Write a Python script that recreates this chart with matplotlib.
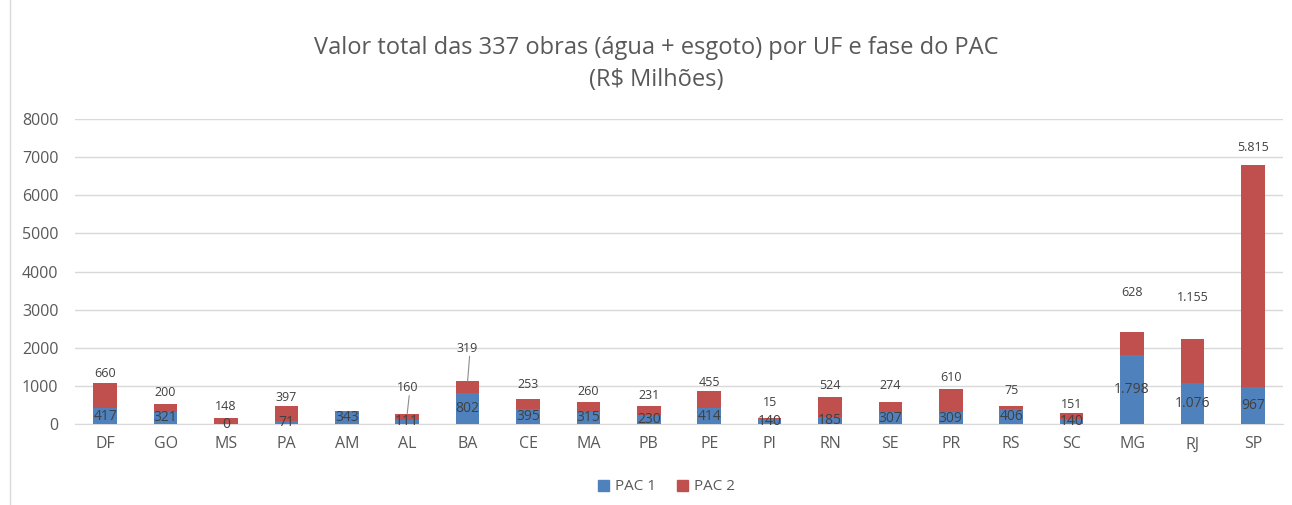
import matplotlib
matplotlib.use("Agg")
import matplotlib.pyplot as plt
import numpy as np
from matplotlib.patches import Patch

ufs = ["DF", "GO", "MS", "PA", "AM", "AL", "BA", "CE", "MA", "PB", "PE", "PI",
       "RN", "SE", "PR", "RS", "SC", "MG", "RJ", "SP"]
pac1 = [417, 321, 0, 71, 343, 111, 802, 395, 315, 230, 414, 140, 185, 307, 309, 406, 140, 1798, 1076, 967]
pac2 = [660, 200, 148, 397, 0, 160, 319, 253, 260, 231, 455, 15, 524, 274, 610, 75, 151, 628, 1155, 5815]
pac1_labels = ["417", "321", "0", "71", "343", "111", "802", "395", "315", "230", "414", "140",
               "185", "307", "309", "406", "140", "1.798", "1.076", "967"]
pac2_labels = ["660", "200", "148", "397", "", "160", "319", "253", "260", "231", "455", "15",
               "524", "274", "610", "75", "151", "628", "1.155", "5.815"]
# label centre distance above bar top (pixels)
pac2_offsets_px = [9, 12, 12, 9, 0, 26, 33, 15, 11, 11, 8, 16, 11, 16, 11, 15, 8, 39, 41, 18]
leader = [False, False, False, False, False, True, True] + [False] * 13

BLUE = "#4F81BD"
RED = "#C0504D"
GRAY = "#595959"
PX = 0.72  # points per pixel at 100 dpi

plt.rcParams["font.family"] = ["Open Sans", "DejaVu Sans"]

fig = plt.figure(figsize=(12.92, 5.05), dpi=100)
ax = fig.add_axes([75 / 1292, 1 - 424 / 505, (1283 - 75) / 1292, (424 - 119) / 505])

x = np.arange(len(ufs))
w = 0.39
ax.bar(x, pac1, w, color=BLUE, zorder=3)
ax.bar(x, pac2, w, bottom=pac1, color=RED, zorder=3)

for i in range(len(ufs)):
    ax.text(x[i], pac1[i] / 2, pac1_labels[i], ha="center", va="center",
            fontsize=10, color="#404040", zorder=4)
    if pac2_labels[i]:
        top = pac1[i] + pac2[i]
        off = pac2_offsets_px[i] * PX
        ax.annotate(pac2_labels[i], xy=(x[i], top), xytext=(0, off),
                    textcoords="offset points", ha="center", va="center",
                    fontsize=9, color="#404040", zorder=4)
        if leader[i]:
            ax.annotate("", xy=(x[i], top), xytext=(2 * PX, off - 8 * PX),
                        textcoords="offset points",
                        arrowprops=dict(arrowstyle="-", color="#8C8C8C", lw=0.8,
                                        shrinkA=0, shrinkB=0), zorder=4)

ax.set_ylim(0, 8000)
ax.set_xlim(-0.5, len(ufs) - 0.5)
ax.set_yticks(range(0, 8001, 1000))
ax.yaxis.grid(True, color="#D9D9D9", lw=1, zorder=0)
ax.set_axisbelow(True)
for s in ["top", "right", "left"]:
    ax.spines[s].set_visible(False)
ax.spines["bottom"].set_color("#D9D9D9")
ax.tick_params(axis="both", length=0, colors=GRAY, labelsize=11.5)
ax.tick_params(axis="y", pad=12)
ax.tick_params(axis="x", pad=9)
ax.set_xticks(x)
ax.set_xticklabels(ufs)

fig.text(0.508, 1 - 48 / 505, "Valor total das 337 obras (água + esgoto) por UF e fase do PAC",
         ha="center", va="center", fontsize=17, color=GRAY)
fig.text(0.508, 1 - 80 / 505, "(R$ Milhões)", ha="center", va="center", fontsize=17, color=GRAY)

handles = [Patch(color=BLUE, label="PAC 1"), Patch(color=RED, label="PAC 2")]
fig.legend(handles=handles, loc="center", bbox_to_anchor=(0.516, 1 - 487 / 505), ncol=2,
           frameon=False, fontsize=11, labelcolor=GRAY, handlelength=0.7, handleheight=0.7,
           handletextpad=0.4, columnspacing=1.4)

fig.add_artist(plt.Line2D([10 / 1292, 10 / 1292], [0, 1], color="#D9D9D9", lw=1))

fig.savefig("out.png", dpi=100)
